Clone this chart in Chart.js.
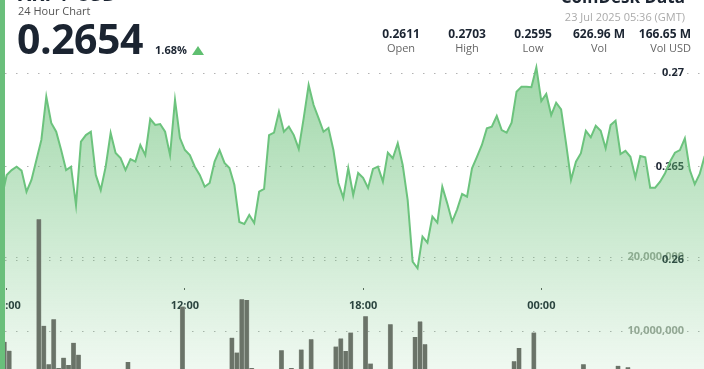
<!DOCTYPE html>
<html>
<head>
<meta charset="utf-8">
<script src="https://cdn.jsdelivr.net/npm/chart.js@4.4.0/dist/chart.umd.min.js"></script>
<style>
  html, body { margin: 0; padding: 0; width: 704px; height: 369px; overflow: hidden; background: #fff; }
  body { position: relative; font-family: "Open Sans", sans-serif; color: #1b2431; }
  #edge { position: absolute; left: 0; top: 0; width: 5px; height: 369px; background: #6abf7b; z-index: 3; }
  #chartBox { position: absolute; left: 5px; top: 0; width: 699px; height: 405px; }
  .txt { position: absolute; white-space: nowrap; line-height: 1; z-index: 2; }
  #title { left: 18px; top: -16px; font-size: 20px; font-weight: 700; }
  #sub { left: 18px; top: 5px; font-size: 11px; color: #555; }
  #price { left: 17px; top: 18px; font-size: 41px; font-weight: 700; letter-spacing: -0.5px; }
  #chg { left: 155px; top: 44px; font-size: 11px; font-weight: 700; }
  #tri { position: absolute; left: 192px; top: 46px; width: 0; height: 0; border-left: 6px solid transparent; border-right: 6px solid transparent; border-bottom: 9px solid #5fbf70; z-index: 2; }
  #logo { right: 19px; top: -12px; font-size: 17px; font-weight: 700; }
  #stamp { right: 19px; top: 11px; font-size: 11px; color: #aaa; }
  .col { position: absolute; width: 70px; text-align: center; z-index: 2; line-height: 1; }
  .col b { position: absolute; left: 0; right: 0; top: 0; font-size: 12px; }
  .col span { position: absolute; left: 0; right: 0; top: 14px; font-size: 11px; color: #666; }
</style>
</head>
<body>
<div id="edge"></div>
<div id="chartBox"><canvas id="myChart" width="699" height="405"></canvas></div>
<div class="txt" id="title">XRP / USD</div>
<div class="txt" id="sub">24 Hour Chart</div>
<div class="txt" id="price">0.2654</div>
<div class="txt" id="chg">1.68%</div>
<div id="tri"></div>
<div class="txt" id="logo">CoinDesk Data</div>
<div class="txt" id="stamp">23 Jul 2025 05:36 (GMT)</div>
<div id="stats"></div>
<script>
// hours since 00:00 on 22 Jul, one point every 10 minutes
var firstHour = 6 - 1 / 6;
var prices = [
    0.26332, 0.26455, 0.26481, 0.26499, 0.26478, 0.26365, 0.26428, 0.26535, 0.26642, 0.26873,
    0.26733, 0.26686, 0.26588, 0.26481, 0.26499, 0.26294, 0.26633, 0.26668, 0.26686, 0.26455,
    0.26374, 0.26499, 0.26679, 0.26572, 0.26545, 0.26481, 0.26540, 0.26526, 0.26615, 0.26561,
    0.26754, 0.26722, 0.26727, 0.26686, 0.26561, 0.26856, 0.26652, 0.26588, 0.26561, 0.26499,
    0.26455, 0.26392, 0.26412, 0.26526, 0.26588, 0.26519, 0.26492, 0.26401, 0.26203, 0.26193,
    0.26241, 0.26198, 0.26365, 0.26380, 0.26668, 0.26681, 0.26793, 0.26686, 0.26713, 0.26668,
    0.26594, 0.26759, 0.26936, 0.26829, 0.26759, 0.26686, 0.26706, 0.26588, 0.26412, 0.26332,
    0.26492, 0.26348, 0.26465, 0.26439, 0.26385, 0.26487, 0.26499, 0.26419, 0.26574, 0.26544,
    0.26624, 0.26508, 0.26321, 0.25991, 0.25956, 0.26125, 0.26093, 0.26232, 0.26200, 0.26392,
    0.26303, 0.26205, 0.26271, 0.26353, 0.26339, 0.26490, 0.26552, 0.26615, 0.26704, 0.26713,
    0.26770, 0.26695, 0.26681, 0.26734, 0.26900, 0.26927, 0.26927, 0.26924, 0.27030, 0.26850,
    0.26888, 0.26775, 0.26841, 0.26806, 0.26624, 0.26428, 0.26526, 0.26571, 0.26691, 0.26656,
    0.26718, 0.26691, 0.26597, 0.26722, 0.26745, 0.26567, 0.26584, 0.26552, 0.26442, 0.26556,
    0.26549, 0.26387, 0.26387, 0.26419, 0.26464, 0.26526, 0.26574, 0.26588, 0.26651, 0.26481,
    0.26406, 0.26460, 0.26556
];
// volume in millions
var volumes = [
    3.2, 8.55, 7.34, 3.1, 2.4, 3.6, 2.8, 4.1, 25.1, 10.7,
    5.5, 11.6, 5.0, 6.4, 5.4, 8.4, 6.8, 3.9, 2.6, 3.3,
    4.2, 2.5, 3.0, 1.9, 2.7, 3.4, 5.8, 2.9, 2.2, 3.1,
    4.0, 2.4, 1.8, 2.6, 3.5, 2.0, 3.8, 13.3, 2.9, 2.1,
    2.7, 3.4, 2.3, 1.7, 2.5, 3.9, 4.4, 9.1, 7.1, 14.3,
    14.2, 5.0, 3.6, 2.8, 4.3, 2.2, 3.1, 7.4, 2.6, 5.0,
    3.3, 7.5, 2.4, 8.9, 3.7, 2.1, 2.9, 4.5, 7.9, 9.0,
    7.3, 9.8, 4.2, 3.0, 12.0, 5.6, 3.2, 2.5, 4.0, 10.9,
    3.5, 2.7, 4.6, 3.9, 9.2, 11.3, 8.2, 4.4, 3.1, 2.6,
    3.8, 2.2, 2.9, 1.9, 2.4, 3.3, 2.0, 2.7, 1.6, 2.3,
    3.0, 1.8, 4.1, 4.7, 5.9, 7.7, 3.6, 4.3, 9.8, 3.2,
    2.5, 2.1, 2.8, 1.9, 2.4, 3.0, 2.2, 4.4, 5.5, 2.6,
    1.7, 2.3, 3.1, 1.8, 2.5, 5.3, 2.9, 5.1, 2.0, 1.6,
    2.4, 3.4, 2.1, 1.5, 2.2, 1.9, 2.6, 1.4, 2.0, 2.7,
    1.8, 2.3, 1.5
];
var hourTicks = [6, 12, 18, 24];
var hourLabels = ["06:00", "12:00", "18:00", "00:00"];
var priceTicks = [0.26, 0.265, 0.27];
var volumeTicks = [10000000, 20000000];

var statValues = ["0.2611", "0.2703", "0.2595", "626.96 M", "166.65 M"];
var statNames = ["Open", "High", "Low", "Vol", "Vol USD"];
var statCenters = [401, 467, 533, 599, 656];

// stat columns in the header
var statsHtml = "";
for (let i = 0; i < statValues.length; i++) {
    let style = 'left:' + (statCenters[i] - 35) + 'px;top:28px;';
    if (i === statValues.length - 1) style += 'text-align:right;';
    statsHtml += '<div class="col" style="' + style + '"><b>' + statValues[i] + '</b><span>' + statNames[i] + '</span></div>';
}
document.getElementById("stats").innerHTML = statsHtml;

var linePoints = [];
var barPoints = [];
for (let k = 0; k < prices.length; k++) {
    let h = firstHour + k / 6;
    linePoints.push({ x: h, y: prices[k] });
    barPoints.push({ x: h - 1 / 12, y: volumes[k] * 1000000 });
}

// keep axes from eating into the plot, labels sit inside it
function flatX(scale) {
    scale.height = 0;
    scale.paddingLeft = 0;
    scale.paddingRight = 0;
}
function flatY(scale) {
    scale.width = 0;
    scale.paddingTop = 0;
    scale.paddingBottom = 0;
}

var ctx = document.getElementById('myChart').getContext('2d');
var chart = new Chart(ctx, {
    data: {
        datasets: [{
            type: 'bar',
            data: barPoints,
            yAxisID: 'yVol',
            backgroundColor: '#6a7368',
            borderColor: '#959e93',
            borderWidth: { left: 0.6, right: 0.6, top: 0, bottom: 0 },
            barThickness: 4.6,
            order: 0
        }, {
            type: 'line',
            data: linePoints,
            yAxisID: 'y',
            borderColor: '#6cc37d',
            borderWidth: 2,
            pointRadius: 0,
            tension: 0,
            fill: 'start',
            backgroundColor: function (context) {
                var area = context.chart.chartArea;
                if (!area) return 'rgba(100,190,115,0.3)';
                var g = context.chart.ctx.createLinearGradient(0, area.top, 0, area.bottom);
                g.addColorStop(0, 'rgba(100,190,115,0.72)');
                g.addColorStop(1, 'rgba(100,190,115,0.04)');
                return g;
            },
            order: 1
        }]
    },
    options: {
        responsive: false,
        animation: false,
        layout: { padding: 0 },
        plugins: { legend: { display: false }, tooltip: { enabled: false } },
        scales: {
            x: {
                type: 'linear',
                position: { y: 0.2585 },
                min: 5.9428,
                max: 29.478,
                offset: false,
                afterFit: flatX,
                afterBuildTicks: function (scale) {
                    scale.ticks = hourTicks.map(v => ({ value: v }));
                },
                ticks: {
                    autoSkip: false,
                    maxRotation: 0,
                    padding: 9,
                    color: '#1b2431',
                    font: { family: 'Open Sans', size: 11, weight: 'bold' },
                    callback: function (value) {
                        return hourLabels[hourTicks.indexOf(value)];
                    }
                },
                grid: { offset: false, drawOnChartArea: false, tickLength: 2, tickColor: '#555', tickWidth: 1 },
                border: { display: false }
            },
            yVol: {
                position: 'right',
                min: 0,
                max: 54730000,
                afterFit: flatY,
                afterBuildTicks: function (scale) {
                    scale.ticks = volumeTicks.map(v => ({ value: v }));
                },
                ticks: {
                    mirror: true,
                    padding: -20,
                    color: '#9ba39a',
                    font: { family: 'Open Sans', size: 11, weight: 'bold' },
                    callback: function (value) { return value.toLocaleString('en-US'); }
                },
                grid: { color: 'rgba(0,0,0,0.3)', drawTicks: false },
                border: { display: false, dash: [1.5, 9.5] }
            },
            y: {
                position: 'right',
                min: 0.252246,
                max: 0.273904,
                afterFit: flatY,
                afterBuildTicks: function (scale) {
                    scale.ticks = priceTicks.map(v => ({ value: v }));
                },
                ticks: {
                    mirror: true,
                    padding: -20,
                    color: '#1b2431',
                    font: { family: 'Open Sans', size: 11, weight: 'bold' },
                    callback: function (value) { return String(value); }
                },
                grid: { color: 'rgba(0,0,0,0.3)', drawTicks: false },
                border: { display: false, dash: [1.5, 9.5] }
            }
        }
    }
});
</script>
</body>
</html>
